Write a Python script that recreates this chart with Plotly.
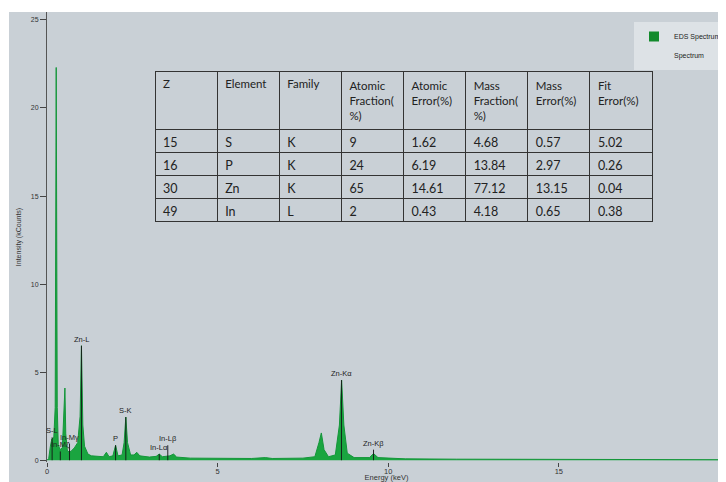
import plotly.graph_objects as go

# ---- spectrum data (energy keV, intensity kCounts) ----
energy = [0.0, 0.05, 0.10, 0.14, 0.20, 0.24, 0.27, 0.30, 0.33, 0.38, 0.45, 0.50, 0.525, 0.55,
          0.60, 0.70, 0.80, 0.90, 0.97, 1.01, 1.05, 1.10, 1.20, 1.30, 1.50, 1.65, 1.74, 1.82,
          1.93, 2.01, 2.08, 2.20, 2.26, 2.31, 2.36, 2.45, 2.55, 2.63, 2.72, 3.00, 3.20, 3.29,
          3.38, 3.50, 3.60, 3.71, 3.80, 4.20, 5.00, 6.00, 6.40, 6.60, 7.50, 7.85, 7.97, 8.04,
          8.12, 8.25, 8.45, 8.57, 8.635, 8.70, 8.80, 8.90, 9.00, 9.45, 9.57, 9.70, 10.5, 12.0,
          15.0, 15.8, 16.5, 20.0]
counts = [0.0, 0.1, 0.8, 1.2, 1.3, 3.0, 22.3, 3.0, 0.9, 0.6, 0.7, 2.5, 4.1, 1.5,
          0.5, 0.5, 0.7, 1.0, 2.5, 6.5, 2.0, 0.8, 0.35, 0.25, 0.2, 0.2, 0.45, 0.2,
          0.25, 0.85, 0.25, 0.3, 1.0, 2.45, 1.0, 0.3, 0.3, 0.45, 0.25, 0.18, 0.22, 0.35,
          0.2, 0.25, 0.25, 0.35, 0.18, 0.12, 0.1, 0.1, 0.15, 0.1, 0.12, 0.2, 1.0, 1.55,
          0.6, 0.2, 0.3, 2.0, 4.55, 2.0, 0.4, 0.28, 0.15, 0.15, 0.38, 0.15, 0.08, 0.06,
          0.05, 0.08, 0.05, 0.03]

# ---- element marker lines ----
marker_names = ["S-L", "In-Mζ", "In-Mγ", "Zn-L", "P", "S-K", "In-Lα", "In-Lβ", "Zn-Kα", "Zn-Kβ"]
marker_energy = [0.15, 0.39, 0.66, 1.01, 2.01, 2.31, 3.29, 3.54, 8.63, 9.57]
marker_height = [1.3, 0.5, 0.95, 6.5, 0.85, 2.45, 0.35, 0.85, 4.55, 0.6]

# ---- quantification table ----
col_headers = ["Z", "Element", "Family", "Atomic<br>Fraction(<br>%)", "Atomic<br>Error(%)",
               "Mass<br>Fraction(<br>%)", "Mass<br>Error(%)", "Fit<br>Error(%)"]
z_vals = ["15", "16", "30", "49"]
element_vals = ["S", "P", "Zn", "In"]
family_vals = ["K", "K", "K", "L"]
atomic_frac = ["9", "24", "65", "2"]
atomic_err = ["1.62", "6.19", "14.61", "0.43"]
mass_frac = ["4.68", "13.84", "77.12", "4.18"]
mass_err = ["0.57", "2.97", "13.15", "0.65"]
fit_err = ["5.02", "0.26", "0.04", "0.38"]

# ---- ticks ----
x_ticks = [0, 5, 10, 15]
y_ticks = [0, 5, 10, 15, 20, 25]

BG = "#c9d0d6"
OFF = 8  # page body margin
W, H = 718, 474
ML, MR, MT, MB = 39, 0, 4, 20
PW, PH = W - ML - MR, H - MT - MB


def px2dx(px):  # screen px -> plot-area fraction
    return (px - OFF - ML) / PW


def py2dy(py):
    return 1 - (py - OFF - MT) / PH


fig = go.Figure()

fig.add_trace(go.Scatter(
    x=energy, y=counts, mode="lines", fill="tozeroy",
    name="EDS Spectrum", showlegend=False,
    line=dict(color="#14963a", width=1),
    fillcolor="#1aa540",
))

# marker lines built from the marker arrays
mx, my = [], []
for e, h in zip(marker_energy, marker_height):
    mx += [e, e, None]
    my += [0, h, None]
fig.add_trace(go.Scatter(
    x=mx, y=my, mode="lines", name="markers",
    line=dict(color="rgba(20,20,20,0.9)", width=1),
    showlegend=False, hoverinfo="skip",
))
# legend entries
fig.add_trace(go.Scatter(
    x=[None], y=[None], mode="markers", name="EDS Spectrum",
    marker=dict(symbol="square", size=10, color="#128a2c"),
))
fig.add_trace(go.Scatter(
    x=[None], y=[None], mode="lines", name="Spectrum",
    line=dict(color="rgba(0,0,0,0)", width=0),
))

for n, e, h in zip(marker_names, marker_energy, marker_height):
    fig.add_annotation(
        x=e, y=h, text=n, showarrow=False, xanchor="center", yanchor="bottom",
        font=dict(family="Liberation Sans", size=7.5, color="#222"),
    )

fig.add_trace(go.Table(
    domain=dict(x=[px2dx(155), px2dx(652)], y=[py2dy(240), py2dy(71)]),
    columnwidth=[1] * 8,
    header=dict(
        values=col_headers, align="left", height=56,
        fill_color=BG, line=dict(color="#333", width=1),
        font=dict(family="Lato", size=11.5, color="#222"),
    ),
    cells=dict(
        values=[z_vals, element_vals, family_vals, atomic_frac, atomic_err,
                mass_frac, mass_err, fit_err],
        align="left", height=23,
        fill_color=BG, line=dict(color="#333", width=1),
        font=dict(family="Lato", size=12.5, color="#222"),
    ),
))

fig.add_shape(type="rect", xref="paper", yref="paper",
              x0=(1 - ML) / PW, x1=1.02, y0=-MB / PH - 0.01, y1=1.0,
              fillcolor=BG, line=dict(width=0), layer="below")

fig.update_layout(
    width=W, height=H,
    margin=dict(l=ML, r=MR, t=MT, b=MB, autoexpand=False),
    paper_bgcolor="white", plot_bgcolor=BG,
    font=dict(family="Liberation Sans", color="#333"),
    legend=dict(
        x=1, xanchor="right", y=py2dy(22), yanchor="top",
        bgcolor="#dde2e6", font=dict(size=7, color="#222"),
        itemwidth=30, tracegroupgap=0,
    ),
    xaxis=dict(
        range=[0, 19.9], tickvals=x_ticks, ticks="outside", ticklen=4,
        tickcolor="#444", showgrid=False, zeroline=False, showline=False,
        tickfont=dict(size=7.5, color="#333"), automargin=False,
        ticklabelstandoff=-2,
        title=dict(text="Energy (keV)", font=dict(size=7.5, color="#333")),
    ),
    yaxis=dict(
        range=[-0.1, 25.45], tickvals=y_ticks, ticks="outside", ticklen=6,
        tickcolor="#444", showgrid=False, zeroline=False, showline=True,
        linecolor="#555", linewidth=1, automargin=False,
        tickfont=dict(size=7, color="#333"),
        title=dict(text="Intensity (kCounts)", font=dict(size=7, color="#333"), standoff=8),
    ),
)

fig.write_html("out.html")
